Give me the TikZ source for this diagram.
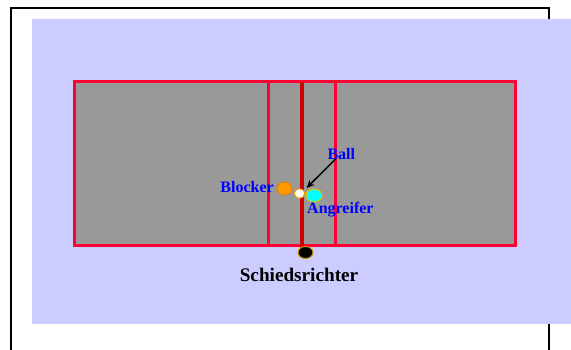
\documentclass[tikz,border=0pt]{standalone}
\usepackage{fontspec}
\setmainfont{Liberation Serif}
\usetikzlibrary{arrows.meta,shapes.geometric}
\definecolor{bgblue}{RGB}{204,204,255}
\definecolor{courtgray}{RGB}{153,153,153}
\definecolor{linered}{RGB}{255,0,51}
\definecolor{netred}{RGB}{204,0,0}
\definecolor{pl1}{RGB}{255,153,0}
\definecolor{pl1d}{RGB}{230,130,0}
\definecolor{pl2}{RGB}{0,255,255}
\definecolor{pl2d}{RGB}{230,200,0}
\definecolor{refd}{RGB}{204,153,0}
\definecolor{lblue}{RGB}{0,0,255}
\tikzset{
  lbl/.style={text=lblue, font=\fontsize{16}{18}\selectfont\bfseries, inner sep=0pt},
  reflbl/.style={text=black, font=\fontsize{19.2}{21}\selectfont\bfseries, inner sep=0pt},
  courtline/.style={draw=linered, line width=2.8pt},
  netline/.style={draw=netred, line width=4pt},
  token/.style={ellipse, inner sep=0pt, line width=1pt},
}
\begin{document}
\begin{tikzpicture}[x=1pt,y=-1pt]
\useasboundingbox (0,0) rectangle (571,349);
\clip (0,0) rectangle (571,349);
% frame
\draw[black, line width=2pt] (11,8.3) rectangle (549,360);
% background
\fill[bgblue] (32,19) rectangle (571,324);
% court
\draw[fill=courtgray, courtline] (74.5,81.5) rectangle (515.5,245.5);
\coordinate (l1t) at (268.5,81.5); \coordinate (l1b) at (268.5,245.5);
\coordinate (l2t) at (335.5,81.5); \coordinate (l2b) at (335.5,245.5);
\coordinate (nt) at (302,81.5); \coordinate (nb) at (302,248);
\draw[courtline] (l1t) -- (l1b);
\draw[courtline] (l2t) -- (l2b);
\draw[netline] (nt) -- (nb);
% players
\node[token, minimum width=15pt, minimum height=13pt, fill=pl1, draw=pl1d] (blocker) at (284.5,188.5) {};
\node[token, minimum width=10.5pt, minimum height=9.5pt, fill=white, draw=pl1] (ball) at (299.5,193.5) {};
\node[token, minimum width=16pt, minimum height=13pt, fill=pl2, draw=pl2d] (angreifer) at (314,195.5) {};
\node[token, minimum width=15pt, minimum height=12pt, fill=black, draw=refd] (ref) at (305.5,252.5) {};
% labels
\node[lbl, anchor=base east] (blockertext) at (274,192.5) {Blocker};
\node[lbl, anchor=base west] (angreifertext) at (307,213.5) {Angreifer};
\node[lbl, anchor=base] (balltext) at (341.3,159) {Ball};
\node[reflbl, anchor=base] (reftext) at (299,281.5) {Schiedsrichter};
\coordinate (arrowtip) at (306.5,188);
\draw[-{Stealth[length=8pt,width=7pt]}, line width=1.5pt, black] ([xshift=-5pt,yshift=1pt]balltext.south) -- (arrowtip);
\end{tikzpicture}
\end{document}
